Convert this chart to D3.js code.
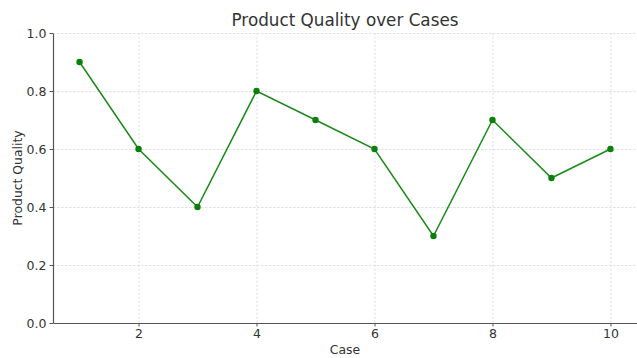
<!DOCTYPE html>
<html>
<head>
<meta charset="utf-8">
<script src="https://cdn.jsdelivr.net/npm/d3@7"></script>
<style>
  body { margin: 0; background: #fff; }
  svg { font-family: "DejaVu Sans", sans-serif; }
  .grid line { stroke: #d9d9d9; stroke-dasharray: 2.5,1.5; stroke-width: 0.8; }
  .grid path { display: none; }
</style>
</head>
<body>
<div id="chart"></div>
<script>
const cases = [1, 2, 3, 4, 5, 6, 7, 8, 9, 10];
const quality = [0.9, 0.6, 0.4, 0.8, 0.7, 0.6, 0.3, 0.7, 0.5, 0.6];
const xTicks = [2, 4, 6, 8, 10];
const yTicks = [0, 0.2, 0.4, 0.6, 0.8, 1.0];

const W = 637, H = 358;
const margin = { top: 33, right: 0, bottom: 35, left: 53 },
    width = W - margin.left - margin.right,
    height = H - margin.top - margin.bottom;

const svg = d3.select("#chart")
    .append("svg")
    .attr("width", W)
    .attr("height", H);

const g = svg.append("g")
    .attr("transform", `translate(${margin.left},${margin.top})`);

const x = d3.scaleLinear().domain([0.55, 10.45]).range([0, width]);
const y = d3.scaleLinear().domain([0, 1]).range([height, 0]);

// grid
g.append("g")
    .attr("class", "grid")
    .attr("transform", `translate(0,${height})`)
    .call(d3.axisBottom(x).tickValues(xTicks).tickSize(-height).tickFormat(""));
g.append("g")
    .attr("class", "grid")
    .call(d3.axisLeft(y).tickValues(yTicks).tickSize(-width).tickFormat(""));

// axes
const xAxis = g.append("g")
    .attr("transform", `translate(0,${height})`)
    .call(d3.axisBottom(x).tickValues(xTicks).tickSize(3.5).tickPadding(3).tickSizeOuter(0));
const yAxis = g.append("g")
    .call(d3.axisLeft(y).tickValues(yTicks).tickSize(3.5).tickPadding(3).tickSizeOuter(0)
        .tickFormat(d3.format(".1f")));

[xAxis, yAxis].forEach(a => {
    a.attr("font-size", null).attr("font-family", null);
    a.select(".domain").attr("stroke", "#555").attr("stroke-width", 1.2);
    a.selectAll(".tick line").attr("stroke", "#555");
    a.selectAll(".tick text").attr("fill", "#333").style("font-size", "12.5px");
});

// line
const line = d3.line()
    .x((d, i) => x(cases[i]))
    .y(d => y(d));

g.append("path")
    .datum(quality)
    .attr("fill", "none")
    .attr("stroke", "#1a8a1a")
    .attr("stroke-width", 1.5)
    .attr("d", line);

g.selectAll("circle")
    .data(quality)
    .join("circle")
    .attr("cx", (d, i) => x(cases[i]))
    .attr("cy", d => y(d))
    .attr("r", 3.2)
    .attr("fill", "#0a800a");

// labels
svg.append("text")
    .attr("x", margin.left + width / 2)
    .attr("y", 26)
    .attr("text-anchor", "middle")
    .attr("fill", "#333")
    .style("font-size", "16.8px")
    .text("Product Quality over Cases");

svg.append("text")
    .attr("x", margin.left + width / 2)
    .attr("y", 354)
    .attr("text-anchor", "middle")
    .attr("fill", "#333")
    .style("font-size", "12.4px")
    .text("Case");

svg.append("text")
    .attr("transform", "rotate(-90)")
    .attr("x", -(margin.top + height / 2))
    .attr("y", 22)
    .attr("text-anchor", "middle")
    .attr("fill", "#333")
    .style("font-size", "12.4px")
    .text("Product Quality");
</script>
</body>
</html>
